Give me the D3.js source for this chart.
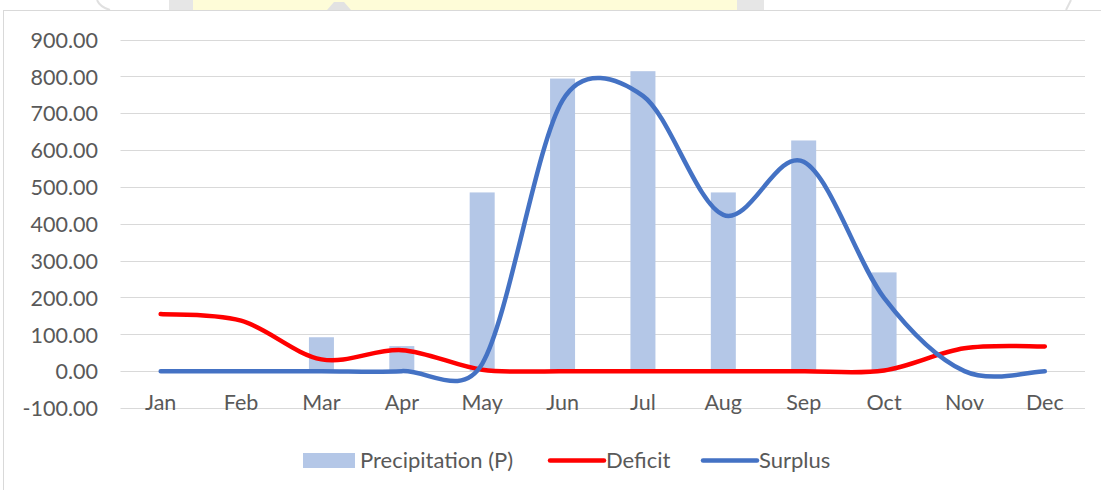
<!DOCTYPE html>
<html>
<head>
<meta charset="utf-8">
<script src="https://cdn.jsdelivr.net/npm/d3@7"></script>
<style>
  html, body { margin: 0; padding: 0; background: #ffffff; }
  svg { display: block; }
  text { font-family: Lato, "Open Sans", sans-serif; fill: #595959; }
</style>
</head>
<body>
<svg id="chart" width="1101" height="490"></svg>
<script>
const months = ["Jan","Feb","Mar","Apr","May","Jun","Jul","Aug","Sep","Oct","Nov","Dec"];
const precipitation = [0, 0, 92, 68, 485, 794, 814, 485, 626, 268, 0, 0];
const deficit = [155, 137, 32, 57, 4, 0, 0, 0, 0, 2, 62, 67];
const surplus = [0, 0, 0, 0, 20, 735, 747, 424, 568, 199, 0, 0];
const yTicks = [-100, 0, 100, 200, 300, 400, 500, 600, 700, 800, 900];
const seriesNames = ["Precipitation (P)", "Deficit", "Surplus"];

const svg = d3.select("#chart");

// faint watermark fragments above the chart frame
const wm = svg.append("g");
wm.append("rect").attr("x", 169).attr("y", 0).attr("width", 595).attr("height", 10).attr("fill", "#e6e6e6");
wm.append("rect").attr("x", 193).attr("y", 0).attr("width", 544).attr("height", 10).attr("fill", "#fefcd8");
wm.append("path").attr("d", "M327,10 L334,2 L344,2 L351,10 Z").attr("fill", "#e2e2e2");
wm.append("path").attr("d", "M97,0 Q100,7 110,10").attr("fill", "none").attr("stroke", "#e0e0e0").attr("stroke-width", 2);
wm.append("path").attr("d", "M1071,0 Q1068,6 1066,10").attr("fill", "none").attr("stroke", "#e0e0e0").attr("stroke-width", 2);

// chart frame
svg.append("rect").attr("x", 3.5).attr("y", 10.5).attr("width", 1110).attr("height", 500)
  .attr("fill", "#ffffff").attr("stroke", "#d9d9d9").attr("stroke-width", 1);

const x = d3.scaleBand().domain(months).range([120.5, 1085]).paddingInner(0.689).paddingOuter(0.3445);
const y = d3.scaleLinear().domain([-100, 900]).range([408, 39.5]);
const cx = m => x(m) + x.bandwidth() / 2;

// gridlines
svg.append("g").selectAll("line").data(yTicks).join("line")
  .attr("x1", 120.5).attr("x2", 1085)
  .attr("y1", d => Math.round(y(d)) + 0.5).attr("y2", d => Math.round(y(d)) + 0.5)
  .attr("stroke", "#d9d9d9").attr("stroke-width", 1);

// y axis labels
const yAxis = d3.axisLeft(y).tickValues(yTicks).tickFormat(d => d.toFixed(2)).tickSize(0).tickPadding(0);
const gy = svg.append("g").attr("transform", "translate(98,0)").call(yAxis);
gy.select(".domain").remove();
gy.selectAll("text").attr("font-size", 21.5).attr("font-family", "Lato").attr("fill", "#595959")
  .attr("dy", "0.36em");

// x axis labels
const xAxis = d3.axisBottom(x).tickSize(0).tickPadding(0);
const gx = svg.append("g").attr("transform", "translate(0,395)").call(xAxis);
gx.select(".domain").remove();
gx.selectAll("text").attr("font-size", 21.5).attr("font-family", "Lato").attr("fill", "#595959")
  .attr("dy", "0.71em");

// bars
svg.append("g").selectAll("rect").data(months.map((m, i) => ({m, v: precipitation[i]}))).join("rect")
  .attr("x", d => x(d.m)).attr("width", x.bandwidth())
  .attr("y", d => y(Math.max(0, d.v))).attr("height", d => Math.abs(y(d.v) - y(0)))
  .attr("fill", "#b4c7e7");

// Excel-like smoothing curve
function excelSmooth(context) {
  let pts = [];
  return {
    areaStart() {}, areaEnd() {},
    lineStart() { pts = []; },
    point(px, py) { pts.push([+px, +py]); },
    lineEnd() {
      const n = pts.length;
      if (!n) return;
      context.moveTo(pts[0][0], pts[0][1]);
      const dist = (a, b) => Math.hypot(a[0] - b[0], a[1] - b[1]);
      for (let i = 0; i < n - 1; i++) {
        const p0 = pts[Math.max(0, i - 1)], p1 = pts[i], p2 = pts[i + 1], p3 = pts[Math.min(n - 1, i + 2)];
        const d12 = dist(p1, p2), d02 = dist(p0, p2), d13 = dist(p1, p3);
        const f0 = (d02 === 0) ? 0 : (d02 / 6 < d12 / 2 ? 1 / 6 : d12 / (2 * d02));
        const f3 = (d13 === 0) ? 0 : (d13 / 6 < d12 / 2 ? 1 / 6 : d12 / (2 * d13));
        const c1 = [p1[0] + (p2[0] - p0[0]) * f0, p1[1] + (p2[1] - p0[1]) * f0];
        const c2 = [p2[0] - (p3[0] - p1[0]) * f3, p2[1] - (p3[1] - p1[1]) * f3];
        context.bezierCurveTo(c1[0], c1[1], c2[0], c2[1], p2[0], p2[1]);
      }
    }
  };
}

const line = d3.line().x((d, i) => cx(months[i])).y(d => y(d)).curve(excelSmooth);

svg.append("path").datum(deficit).attr("d", line)
  .attr("fill", "none").attr("stroke", "#ff0000").attr("stroke-width", 4.5)
  .attr("stroke-linecap", "round").attr("stroke-linejoin", "round");
svg.append("path").datum(surplus).attr("d", line)
  .attr("fill", "none").attr("stroke", "#4472c4").attr("stroke-width", 4.5)
  .attr("stroke-linecap", "round").attr("stroke-linejoin", "round");

// legend
const lg = svg.append("g");
lg.append("rect").attr("x", 303).attr("y", 453).attr("width", 52).attr("height", 15).attr("fill", "#b4c7e7");
lg.append("text").attr("x", 360).attr("y", 468).attr("font-size", 22).text(seriesNames[0]);
lg.append("line").attr("x1", 550).attr("x2", 604).attr("y1", 460.5).attr("y2", 460.5)
  .attr("stroke", "#ff0000").attr("stroke-width", 4.5).attr("stroke-linecap", "round");
lg.append("text").attr("x", 606).attr("y", 468).attr("font-size", 22).text(seriesNames[1]);
lg.append("line").attr("x1", 703).attr("x2", 757).attr("y1", 460.5).attr("y2", 460.5)
  .attr("stroke", "#4472c4").attr("stroke-width", 4.5).attr("stroke-linecap", "round");
lg.append("text").attr("x", 759).attr("y", 468).attr("font-size", 22).text(seriesNames[2]);
</script>
</body>
</html>
